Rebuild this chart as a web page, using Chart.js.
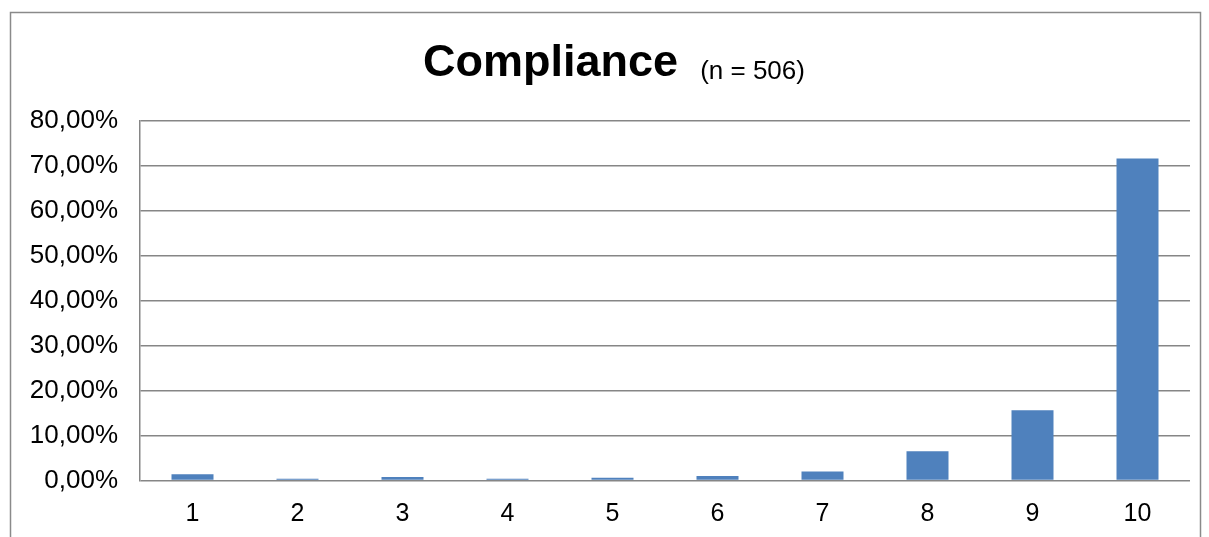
<!DOCTYPE html>
<html>
<head>
<meta charset="utf-8">
<script src="https://cdn.jsdelivr.net/npm/chart.js@4/dist/chart.umd.min.js"></script>
<style>
  html, body { margin: 0; padding: 0; background: #ffffff; }
  #wrap { width: 1209px; height: 537px; position: relative; }
</style>
</head>
<body>
<div id="wrap"><canvas id="c" width="1209" height="537"></canvas></div>
<script>
// Answer scale 1–10 and share of respondents (%)
const categories = ['1', '2', '3', '4', '5', '6', '7', '8', '9', '10'];
const shares = [1.38, 0.40, 0.79, 0.40, 0.59, 0.99, 1.98, 6.52, 15.61, 71.54];
const titleMain = 'Compliance';
const titleSub = '(n = 506)';

const FONT = '"Liberation Sans", Arial, sans-serif';
const GRID = '#868686';

// Frame around the chart and the two-part title
const framePlugin = {
  id: 'frame',
  beforeDraw(chart) {
    const ctx = chart.ctx;
    ctx.save();
    ctx.strokeStyle = '#8a8a8a';
    ctx.lineWidth = 1.5;
    ctx.beginPath();
    ctx.moveTo(10.5, 540);
    ctx.lineTo(10.5, 12.5);
    ctx.lineTo(1200.5, 12.5);
    ctx.lineTo(1200.5, 540);
    ctx.stroke();
    ctx.restore();
  },
  afterDraw(chart) {
    const ctx = chart.ctx;
    ctx.save();
    ctx.fillStyle = '#000000';
    ctx.textBaseline = 'alphabetic';
    ctx.font = 'bold 45px ' + FONT;
    const w1 = ctx.measureText(titleMain).width;
    ctx.font = '26px ' + FONT;
    const gap = 22;
    const w2 = ctx.measureText(titleSub).width;
    const x0 = 614 - (w1 + gap + w2) / 2;
    ctx.font = 'bold 45px ' + FONT;
    ctx.fillText(titleMain, x0, 76);
    ctx.font = '26px ' + FONT;
    ctx.fillText(titleSub, x0 + w1 + gap, 79);
    ctx.restore();
  }
};

new Chart(document.getElementById('c'), {
  type: 'bar',
  data: {
    labels: categories,
    datasets: [{
      data: shares,
      backgroundColor: '#4f81bd',
      borderWidth: 0,
      categoryPercentage: 1.0,
      barPercentage: 0.4
    }]
  },
  options: {
    responsive: false,
    animation: false,
    layout: { padding: { left: 0, right: 19, top: 120.5, bottom: 0 } },
    plugins: {
      legend: { display: false },
      title: { display: false },
      tooltip: { enabled: false }
    },
    scales: {
      x: {
        grid: { display: false, drawTicks: false },
        border: { display: false },
        ticks: { color: '#000', font: { family: FONT, size: 25 }, padding: 19, maxRotation: 0 },
        afterFit(scale) { scale.height = 56.5; }
      },
      y: {
        min: 0,
        max: 80,
        ticks: {
          stepSize: 10,
          color: '#000',
          font: { family: FONT, size: 26 },
          padding: 22,
          callback: v => v.toFixed(2).replace('.', ',') + '%'
        },
        grid: { color: GRID, lineWidth: 1.5, drawTicks: false },
        border: { display: true, color: GRID, width: 1.5 },
        afterFit(scale) { scale.width = 140; }
      }
    }
  },
  plugins: [framePlugin]
});
</script>
</body>
</html>
